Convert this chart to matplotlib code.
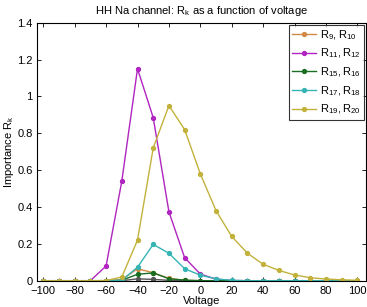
import matplotlib
matplotlib.use("Agg")
import matplotlib.pyplot as plt

plt.rcParams['font.family'] = ['Liberation Sans', 'DejaVu Sans']

voltage = [-100, -90, -80, -70, -60, -50, -40, -30, -20, -10, 0,
           10, 20, 30, 40, 50, 60, 70, 80, 90, 100]

r9_r10 = [0, 0, 0, 0, 0, 0.005, 0.065, 0.043, 0.012, 0.002, 0,
          0, 0, 0, 0, 0, 0, 0, 0, 0, 0]
r11_r12 = [0, 0, 0, 0, 0.08, 0.54, 1.15, 0.885, 0.374, 0.125, 0.036,
           0.008, 0.001, 0, 0, 0, 0, 0, 0, 0, 0]
r13_r14 = [0, 0, 0, 0, 0, 0, 0.01, 0.007, 0.002, 0, 0,
           0, 0, 0, 0, 0, 0, 0, 0, 0, 0]
r15_r16 = [0, 0, 0, 0, 0, 0.002, 0.035, 0.042, 0.011, 0.003, 0,
           0, 0, 0, 0, 0, 0, 0, 0, 0, 0]
r17_r18 = [0, 0, 0, 0, 0, 0.002, 0.073, 0.197, 0.149, 0.065, 0.03,
           0.01, 0.002, 0, 0, 0, 0, 0, 0, 0, 0]
r19_r20 = [0, 0, 0, 0, 0.001, 0.02, 0.22, 0.72, 0.95, 0.82, 0.58,
           0.38, 0.24, 0.149, 0.089, 0.056, 0.031, 0.016, 0.009, 0.005, 0.002]

series = [
    (r9_r10, "#d08a45", "$\\mathregular{R_9,R_{10}}$"),
    (r11_r12, "#b025c0", "$\\mathregular{R_{11},R_{12}}$"),
    (r13_r14, "#555555", "_nolegend_"),
    (r15_r16, "#1a6e22", "$\\mathregular{R_{15},R_{16}}$"),
    (r17_r18, "#35b4b4", "$\\mathregular{R_{17},R_{18}}$"),
    (r19_r20, "#c2b23c", "$\\mathregular{R_{19},R_{20}}$"),
]

fig = plt.figure(figsize=(3.67, 3.07), dpi=100)
ax = fig.add_axes([0.1008, 0.0857, 0.8965, 0.8404])

for vals, col, lab in series:
    ax.plot(voltage, vals, color=col, lw=1.0, marker="o", ms=2.8,
            mec=col, mfc=col, label=lab)

ax.set_xlim(-104, 105.5)
ax.set_ylim(0, 1.4)
ax.set_xticks(range(-100, 101, 20))
ax.set_yticks([0, 0.2, 0.4, 0.6, 0.8, 1.0, 1.2, 1.4])
ax.set_yticklabels(["0", "0.2", "0.4", "0.6", "0.8", "1", "1.2", "1.4"])
ax.tick_params(direction="in", top=True, right=True, labelsize=8,
               length=3, width=0.6)
ax.tick_params(axis="x", pad=4)
ax.tick_params(axis="y", pad=3)
for s in ax.spines.values():
    s.set_linewidth(0.8)

ax.set_xlabel("Voltage", fontsize=8, labelpad=0)
ax.set_ylabel("Importance $\\mathregular{R_k}$", fontsize=8, labelpad=1)
ax.set_title("HH Na channel: $\\mathregular{R_k}$ as a function of voltage",
             fontsize=8, pad=6)

leg = ax.legend(loc="upper right", fontsize=8, frameon=True, fancybox=False,
                borderaxespad=0.2, handlelength=2.2, handletextpad=0.3,
                labelspacing=0.45, borderpad=0.3)
leg.get_frame().set_edgecolor("black")
leg.get_frame().set_linewidth(0.8)

fig.savefig("out.png", dpi=100)
